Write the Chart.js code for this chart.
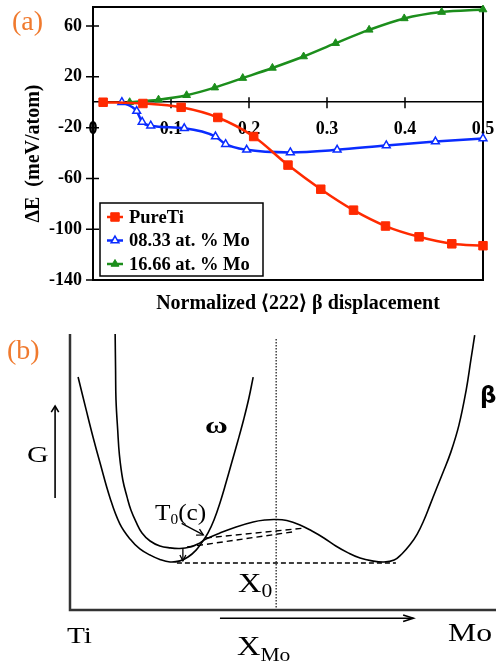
<!DOCTYPE html>
<html>
<head>
<meta charset="utf-8">
<title>Omega transformation energetics</title>
<style>
    body {margin: 0; background: #fff;}
    #page {position: relative; width: 496px; height: 665px; overflow: hidden; font-family: "Liberation Serif", "Times New Roman", serif; color: #000;}
    #panelA {position: absolute; left: 0; top: 0; width: 496px; height: 320px;}
    #panelB {position: absolute; left: 0; top: 320px; width: 496px; height: 345px;}
    .tag {position: absolute; color: #F07A2E; font-size: 28px; line-height: 1;}
    .lbl {position: absolute; line-height: 1; white-space: nowrap; transform-origin: 0 0;}
    .lo {position: relative;}
</style>
<script src="https://cdn.jsdelivr.net/npm/chart.js@4.4.0/dist/chart.umd.min.js"></script>
</head>
<body>
<div id="page">
    <div id="panelA"><canvas id="chartA"></canvas></div>
    <div id="panelB"><canvas id="chartB"></canvas></div>

    <div class="tag" style="left:12px; top:7px;">(a)</div>
    <div class="tag" style="left:7px; top:336px;">(b)</div>

    <div class="lbl" style="left:27px; top:443px; font-size:23px; transform:scaleX(1.3);">G</div>
    <div class="lbl" style="left:205px; top:413px; font-size:24px; font-weight:bold; transform:scaleX(1.3);">ω</div>
    <div class="lbl" style="left:480px; top:384px; font-size:23px; font-weight:bold; font-family:'DejaVu Sans', sans-serif;">β</div>
    <div class="lbl" style="left:155px; top:501px; font-size:23px; transform:scaleX(1.1);">T<span class="lo" style="font-size:14px; top:4px;">0</span>(c)</div>
    <div class="lbl" style="left:238px; top:570px; font-size:27px; transform:scaleX(1.2);">X<span class="lo" style="font-size:18px; top:5px;">0</span></div>
    <div class="lbl" style="left:67px; top:623px; font-size:24px; transform:scaleX(1.22);">Ti</div>
    <div class="lbl" style="left:237px; top:633px; font-size:27px; transform:scaleX(1.2);">X<span class="lo" style="font-size:18px; top:6px;">Mo</span></div>
    <div class="lbl" style="left:448px; top:620px; font-size:26px; transform:scaleX(1.22);">Mo</div>
</div>

<script>
    // ---- panel (a): energy vs normalized <222> beta displacement ----
    var seriesNames = ['PureTi', '08.33 at. % Mo', '16.66 at. % Mo'];
    var seriesColors = ['#FF2A00', '#0A2CFF', '#1C8E1C'];

    var pureTiX = [0.013, 0.064, 0.113, 0.160, 0.206, 0.250, 0.292, 0.334, 0.375, 0.418, 0.460, 0.5];
    var pureTiY = [0, -1, -4, -12, -27, -49.5, -68.5, -85, -97.5, -106, -111.5, -113];

    var mo08X = [0.037, 0.056, 0.063, 0.074, 0.117, 0.157, 0.170, 0.197, 0.253, 0.313, 0.376, 0.439, 0.5];
    var mo08Y = [0, -7, -15.5, -18.5, -20.5, -27, -33, -37.5, -39.5, -37.5, -34, -31, -28.5];

    var mo16X = [0.047, 0.084, 0.120, 0.156, 0.192, 0.230, 0.270, 0.311, 0.354, 0.399, 0.447, 0.5];
    var mo16Y = [0, 2, 5.5, 11.5, 19, 27, 36, 46.5, 57, 66, 71, 73];

    var xTicks = [0, 0.1, 0.2, 0.3, 0.4, 0.5];
    var yTicks = [-140, -100, -60, -20, 20, 60];

    // ---- panel (b): schematic free energy curves (X = Mo fraction along axis, G arbitrary) ----
    var omegaX = [0.019, 0.038, 0.054, 0.070, 0.094, 0.117, 0.141, 0.164, 0.188, 0.211, 0.235, 0.258, 0.277, 0.296, 0.312, 0.324, 0.338, 0.352, 0.366, 0.380, 0.394, 0.408, 0.420, 0.430];
    var omegaG = [0.844, 0.725, 0.627, 0.536, 0.406, 0.312, 0.257, 0.221, 0.199, 0.183, 0.174, 0.178, 0.192, 0.217, 0.250, 0.279, 0.326, 0.388, 0.460, 0.536, 0.612, 0.692, 0.768, 0.844];

    var betaX = [0.106, 0.107, 0.108, 0.112, 0.116, 0.124, 0.134, 0.143, 0.155, 0.169, 0.188, 0.211, 0.235, 0.258, 0.282, 0.300, 0.319, 0.352, 0.390, 0.430, 0.458, 0.481, 0.509, 0.540, 0.568, 0.596, 0.624, 0.653, 0.681, 0.709, 0.737, 0.761, 0.779, 0.798, 0.815, 0.831, 0.845, 0.859, 0.876, 0.894, 0.913, 0.930, 0.941, 0.950];
    var betaG = [1.000, 0.870, 0.761, 0.652, 0.562, 0.471, 0.409, 0.362, 0.319, 0.279, 0.250, 0.232, 0.225, 0.223, 0.228, 0.239, 0.257, 0.279, 0.301, 0.319, 0.326, 0.328, 0.324, 0.308, 0.286, 0.261, 0.232, 0.207, 0.188, 0.178, 0.174, 0.181, 0.203, 0.236, 0.275, 0.326, 0.380, 0.435, 0.500, 0.572, 0.670, 0.797, 0.906, 0.996];

    var axesX = [0, 0, 1.0];
    var axesG = [1.0, 0, 0];
    var tangentX = [0.251, 0.765];
    var tangentG = [0.170, 0.170];
    var x0LineX = [0.484, 0.484];
    var x0LineG = [0.982, 0];
    var dashUpX = [0.319, 0.552];
    var dashUpG = [0.261, 0.297];
    var dashLowX = [0.275, 0.523];
    var dashLowG = [0.228, 0.283];

    var gArrowX = [-0.035, -0.035];
    var gArrowG = [0.406, 0.739];
    var gHeadX = [-0.044, -0.035, -0.0265];
    var gHeadG = [0.717, 0.739, 0.717];
    var xArrowX = [0.352, 0.806];
    var xArrowG = [-0.030, -0.030];
    var xHeadX = [0.782, 0.806, 0.782];
    var xHeadG = [-0.018, -0.030, -0.042];
    var t0ArrowX = [0.262, 0.313];
    var t0ArrowG = [0.314, 0.272];
    var t0HeadX = [0.304, 0.313, 0.296];
    var t0HeadG = [0.293, 0.272, 0.271];
    var dropX = [0.265, 0.265];
    var dropG = [0.225, 0.178];
    var dropHeadX = [0.258, 0.265, 0.272];
    var dropHeadG = [0.199, 0.178, 0.199];

    var serif = 'Liberation Serif';

    function pairs(xs, ys) {
        return xs.map(function(x, i) { return {x: x, y: ys[i]}; });
    }

    function series(i, xs, ys, style, radius, filled) {
        var c = seriesColors[i];
        return {
            label: seriesNames[i],
            data: pairs(xs, ys),
            showLine: true,
            borderColor: c,
            backgroundColor: c,
            borderWidth: 2.5,
            pointStyle: style,
            pointRadius: radius,
            pointBackgroundColor: filled ? c : '#fff',
            pointBorderColor: c,
            pointBorderWidth: filled ? 1 : 1.5,
            cubicInterpolationMode: 'monotone',
            clip: false
        };
    }

    // box frame plus ticks that cross the axes
    var framePlugin = {
        id: 'frame',
        beforeDatasetsDraw: function(chart) {
            var a = chart.chartArea, ctx = chart.ctx;
            var xs = chart.scales.x, ys = chart.scales.y;
            var zero = ys.getPixelForValue(0);
            ctx.save();
            ctx.strokeStyle = '#000';
            ctx.lineWidth = 2;
            ctx.strokeRect(a.left, a.top, a.right - a.left, a.bottom - a.top);
            ctx.lineWidth = 1.5;
            ctx.beginPath();
            yTicks.forEach(function(v) {
                var p = ys.getPixelForValue(v);
                ctx.moveTo(a.left - 7, p);
                ctx.lineTo(a.left + 6, p);
            });
            xTicks.forEach(function(v) {
                var p = xs.getPixelForValue(v);
                ctx.moveTo(p, zero - 5);
                ctx.lineTo(p, zero + 6);
            });
            ctx.stroke();
            ctx.restore();
        }
    };

    // legend box in the lower left corner of the plot
    var legendPlugin = {
        id: 'boxLegend',
        afterDatasetsDraw: function(chart) {
            var a = chart.chartArea, ctx = chart.ctx;
            var left = a.left + 7, right = left + 163;
            var bottom = a.bottom - 4, top = bottom - 73;
            ctx.save();
            ctx.fillStyle = '#fff';
            ctx.fillRect(left, top, right - left, bottom - top);
            ctx.strokeStyle = '#000';
            ctx.lineWidth = 1.5;
            ctx.strokeRect(left, top, right - left, bottom - top);
            ctx.font = 'bold 18.5px "' + serif + '"';
            ctx.textBaseline = 'middle';
            chart.data.datasets.forEach(function(ds, i) {
                var y = top + 14 + i * 23.5;
                ctx.strokeStyle = ds.borderColor;
                ctx.lineWidth = 2.5;
                ctx.beginPath();
                ctx.moveTo(left + 7, y);
                ctx.lineTo(left + 23, y);
                ctx.stroke();
                ctx.fillStyle = ds.pointBackgroundColor;
                ctx.lineWidth = ds.pointBorderWidth;
                Chart.helpers.drawPoint(ctx, {pointStyle: ds.pointStyle, radius: ds.pointRadius, borderWidth: ds.pointBorderWidth, rotation: 0}, left + 15, y);
                ctx.fillStyle = '#000';
                ctx.fillText(ds.label, left + 29, y + 1);
            });
            ctx.restore();
        }
    };

    var boldTick = {family: serif, size: 18, weight: 'bold'};

    new Chart(document.getElementById('chartA'), {
        type: 'scatter',
        data: {
            datasets: [
                series(0, pureTiX, pureTiY, 'rect', 6, true),
                series(1, mo08X, mo08Y, 'triangle', 4.5, false),
                series(2, mo16X, mo16Y, 'triangle', 4.5, true)
            ]
        },
        options: {
            responsive: true,
            maintainAspectRatio: false,
            animation: false,
            layout: {padding: {top: 7, right: 13, left: 0, bottom: 0}},
            plugins: {
                legend: {display: false},
                tooltip: {enabled: false},
                title: {
                    display: true,
                    position: 'bottom',
                    fullSize: false,
                    text: '\u00a0\u00a0\u00a0\u00a0Normalized \u27e8222\u27e9 \u03b2 displacement',
                    color: '#000',
                    font: {family: serif, size: 20, weight: 'bold'},
                    padding: {top: 12, bottom: 4}
                }
            },
            scales: {
                x: {
                    type: 'linear',
                    min: 0,
                    max: 0.5,
                    position: {y: 0},
                    afterBuildTicks: function(s) { s.ticks = xTicks.map(function(v) { return {value: v}; }); },
                    afterFit: function(s) { s.height = 0; s.paddingLeft = 0; s.paddingRight = 0; },
                    grid: {display: false, drawTicks: false},
                    border: {display: true, color: '#000', width: 1.5},
                    ticks: {
                        padding: 16,
                        maxRotation: 0,
                        autoSkip: false,
                        color: '#000',
                        font: boldTick,
                        callback: function(v) { return String(v); }
                    }
                },
                y: {
                    type: 'linear',
                    min: -140,
                    max: 75,
                    position: 'left',
                    afterBuildTicks: function(s) { s.ticks = yTicks.map(function(v) { return {value: v}; }); },
                    afterFit: function(s) { s.width = 93; s.paddingTop = 0; s.paddingBottom = 0; },
                    grid: {display: false, drawTicks: false},
                    border: {display: false},
                    ticks: {padding: 11, color: '#000', font: boldTick},
                    title: {
                        display: true,
                        text: '\u0394E\u00a0 (meV/atom)\u00a0\u00a0\u00a0\u00a0',
                        color: '#000',
                        font: {family: serif, size: 20, weight: 'bold'},
                        padding: {top: 22, bottom: 0}
                    }
                }
            }
        },
        plugins: [framePlugin, legendPlugin]
    });

    // ---- panel (b) ----
    function path(xs, ys, width, color, dash) {
        return {
            data: pairs(xs, ys),
            showLine: true,
            borderColor: color || '#000',
            borderWidth: width,
            borderDash: dash || [],
            pointRadius: 0,
            tension: 0,
            clip: false
        };
    }

    var omegaCurve = path(omegaX, omegaG, 1.6);
    omegaCurve.tension = 0.4;
    var betaCurve = path(betaX, betaG, 1.6);
    betaCurve.tension = 0.4;

    new Chart(document.getElementById('chartB'), {
        type: 'scatter',
        data: {
            datasets: [
                path(axesX, axesG, 2.5, '#333'),
                omegaCurve,
                betaCurve,
                path(tangentX, tangentG, 1.4, '#000', [5, 3]),
                path(dashUpX, dashUpG, 1.4, '#000', [6, 4]),
                path(dashLowX, dashLowG, 1.4, '#000', [6, 4]),
                path(x0LineX, x0LineG, 1.4, '#333', [1.5, 1.5]),
                path(gArrowX, gArrowG, 1.6),
                path(gHeadX, gHeadG, 1.6),
                path(xArrowX, xArrowG, 1.6),
                path(xHeadX, xHeadG, 1.6),
                path(t0ArrowX, t0ArrowG, 1.3),
                path(t0HeadX, t0HeadG, 1.3),
                path(dropX, dropG, 1.3),
                path(dropHeadX, dropHeadG, 1.3)
            ]
        },
        options: {
            responsive: true,
            maintainAspectRatio: false,
            animation: false,
            layout: {padding: 0},
            plugins: {legend: {display: false}, tooltip: {enabled: false}},
            scales: {
                x: {type: 'linear', display: false, min: -0.1643, max: 1.0},
                y: {type: 'linear', display: false, min: -0.1993, max: 1.0507}
            }
        }
    });
</script>
</body>
</html>
